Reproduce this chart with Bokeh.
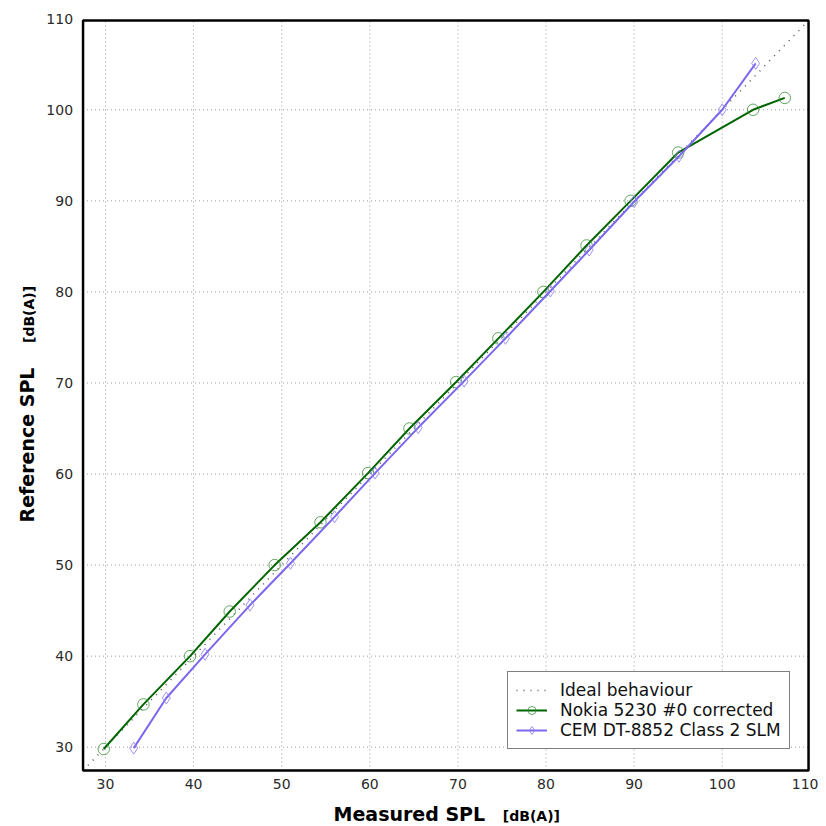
import math
from bokeh.plotting import figure
from bokeh.models import (Range1d, Label, FixedTicker, Legend, LegendItem,
                          BoxAnnotation)
from bokeh.embed import file_html
from bokeh.resources import INLINE

# ---------------- data ----------------
ideal_x = [27.45, 109.8]
ideal_y = [27.45, 109.8]

nokia_x = [29.8, 34.3, 39.6, 44.1, 49.2, 54.4, 59.8, 64.5, 69.8, 74.6, 79.7, 84.6, 89.6, 95.0, 103.5, 107.1]
nokia_y = [29.8, 34.7, 40.0, 44.9, 50.0, 54.7, 60.1, 65.0, 70.1, 74.9, 80.0, 85.1, 90.0, 95.3, 100.0, 101.3]

cem_x = [33.2, 36.9, 41.3, 46.4, 51.0, 56.0, 60.6, 65.5, 70.7, 75.4, 80.5, 84.9, 90.0, 95.1, 100.0, 103.8]
cem_y = [29.9, 35.4, 40.2, 45.6, 50.2, 55.3, 60.1, 65.1, 70.2, 74.9, 80.1, 84.6, 89.9, 94.9, 100.0, 105.1]

ticks = [30, 40, 50, 60, 70, 80, 90, 100, 110]
grid_ticks = [30, 40, 50, 60, 70, 80, 90, 100]

# axis box limits (the visible plot area)
X0, X1 = 27.45, 109.8
Y0, Y1 = 27.45, 109.8

FONT = "DejaVu Sans"

W, H = 818, 825
# frame spans the whole canvas; ranges extended so that the box sits where the axes are
p = figure(width=W, height=H, output_backend="svg", toolbar_location=None,
           x_range=Range1d(18.08, 110.93), y_range=Range1d(30 - (H - 746.7) / 9.106, 112.0),
           min_border=0, min_border_left=0, min_border_right=0,
           min_border_top=0, min_border_bottom=0)
p.outline_line_color = None
p.background_fill_color = "white"
p.border_fill_color = "white"
p.xgrid.visible = False
p.ygrid.visible = False

xa = p.xaxis[0]
ya = p.yaxis[0]
xa.fixed_location = Y0
ya.fixed_location = X0
for ax in (xa, ya):
    ax.ticker = FixedTicker(ticks=ticks)
    ax.axis_line_color = None
    ax.major_tick_line_color = None
    ax.minor_tick_line_color = None
    ax.major_tick_out = 0
    ax.major_tick_in = 0
    ax.minor_tick_out = 0
    ax.major_label_text_font = FONT
    ax.major_label_text_font_size = "14px"
    ax.major_label_text_color = "#2a2a2a"
    ax.axis_label = None
xa.major_label_standoff = 9
ya.major_label_standoff = 10

# grid lines (dotted) at the tick values, limited to the box
n = len(grid_ticks)
p.segment(x0=grid_ticks, y0=[Y0] * n, x1=grid_ticks, y1=[Y1] * n,
          line_color="#9a9a9a", line_dash="1 3", line_width=1)
p.segment(x0=[X0] * n, y0=grid_ticks, x1=[X1] * n, y1=grid_ticks,
          line_color="#9a9a9a", line_dash="1 3", line_width=1)

r_ideal = p.line(ideal_x, ideal_y, line_color="#555555", line_width=1.5, line_dash="1 6")

r_nl = p.line(nokia_x, nokia_y, line_color="#006400", line_width=2)
r_nm = p.scatter(nokia_x, nokia_y, marker="circle", size=11.5, fill_color=None,
                 line_color="#2e8b2e", line_alpha=0.75, line_width=1)

r_cl = p.line(cem_x, cem_y, line_color="#7b68ee", line_width=2)
r_cm = p.scatter(cem_x, cem_y, marker="diamond", size=12, fill_color=None,
                 line_color="#8f80f0", line_alpha=0.85, line_width=1)

# plot box
p.add_layout(BoxAnnotation(left=X0, right=X1, bottom=Y0, top=Y1, fill_alpha=0,
                           line_color="black", line_width=2.5, line_alpha=1))

legend = Legend(items=[
    LegendItem(label="Ideal behaviour", renderers=[r_ideal]),
    LegendItem(label="Nokia 5230 #0 corrected", renderers=[r_nl, r_nm]),
    LegendItem(label="CEM DT-8852 Class 2 SLM", renderers=[r_cl, r_cm]),
], location=(507, H - 749))
legend.label_text_font = FONT
legend.label_text_font_size = "17px"
legend.label_text_color = "#111111"
legend.border_line_color = "black"
legend.border_line_width = 1.2
legend.background_fill_color = "white"
legend.background_fill_alpha = 1
legend.margin = 0
legend.padding = 8
legend.spacing = 0
legend.label_height = 20
legend.glyph_height = 20
legend.glyph_width = 31
legend.label_standoff = 13
p.add_layout(legend)

# axis titles (mixed font sizes)
p.add_layout(Label(x=55.88, y=22.69, text="Measured SPL", text_font=FONT,
                   text_font_style="bold", text_font_size="19px", text_color="black",
                   text_baseline="alphabetic", text_align="left"))
p.add_layout(Label(x=75.1, y=22.42, text="[dB(A)]", text_font=FONT,
                   text_font_style="bold", text_font_size="14px", text_color="black",
                   text_baseline="alphabetic", text_align="left"))
p.add_layout(Label(x=21.09, y=54.68, text="Reference SPL", text_font=FONT,
                   text_font_style="bold", text_font_size="19px", text_color="black",
                   text_baseline="alphabetic", text_align="left", angle=math.pi / 2))
p.add_layout(Label(x=21.37, y=74.39, text="[dB(A)]", text_font=FONT,
                   text_font_style="bold", text_font_size="14px", text_color="black",
                   text_baseline="alphabetic", text_align="left", angle=math.pi / 2))

open("out.html", "w").write(file_html(p, INLINE))
